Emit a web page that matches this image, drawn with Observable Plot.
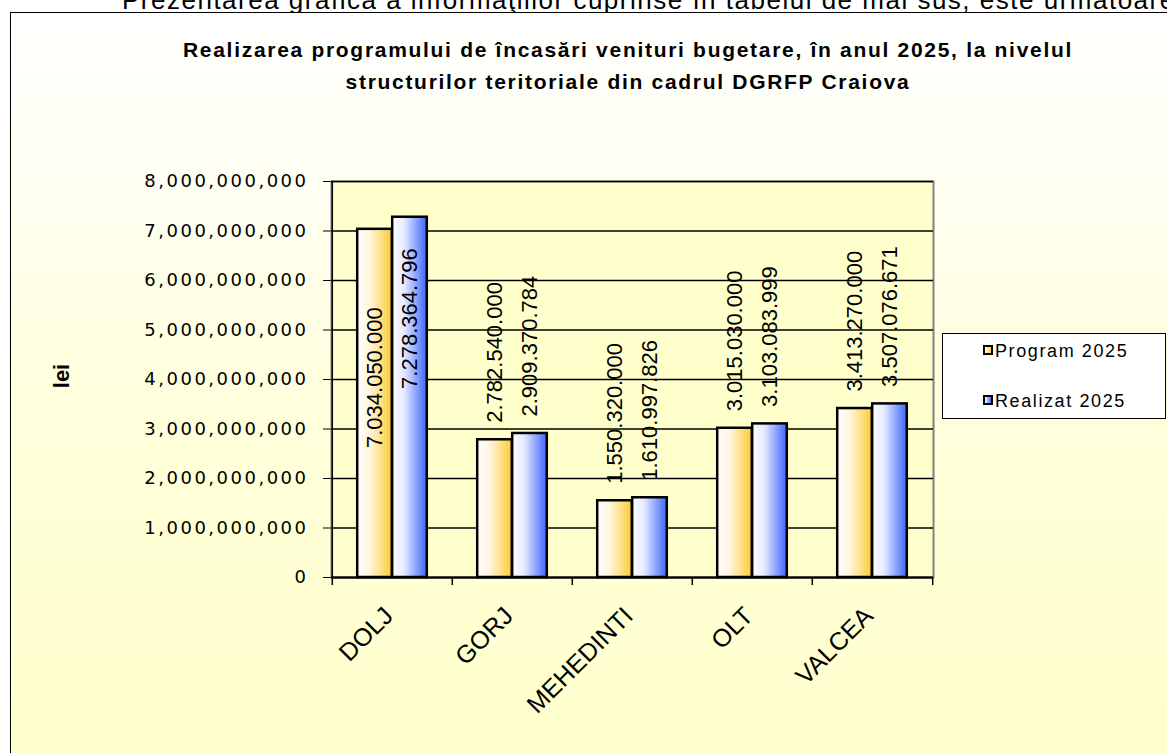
<!DOCTYPE html>
<html><head><meta charset="utf-8">
<script src="https://cdn.jsdelivr.net/npm/d3@7"></script>
<script src="https://cdn.jsdelivr.net/npm/@observablehq/plot@0.6"></script>
<style>
html,body{margin:0;padding:0}
body{width:1167px;height:753px;overflow:hidden;position:relative;background:#fff;font-family:"Liberation Sans",Arial,sans-serif;color:#000}
#intro{position:absolute;left:122px;top:-13px;font-size:26px;line-height:26px;white-space:nowrap;letter-spacing:1.5px}
#frame{position:absolute;left:10px;top:12px;width:1300px;height:900px;border-left:1.5px solid #000;border-top:1.5px solid #000;background:linear-gradient(to bottom,#ffffff 0px,#fffff4 150px,#ffffdc 400px,#ffffcc 741px)}
#title{position:absolute;left:0;top:34px;width:1256px;text-align:center;font-weight:bold;font-size:21px;letter-spacing:1.7px;line-height:32px;white-space:nowrap}
#lei{position:absolute;left:32px;top:365px;width:60px;height:22px;line-height:22px;text-align:center;font-weight:bold;font-size:22px;transform:rotate(-90deg)}
#chart{position:absolute;left:0;top:0}
#legend{position:absolute;left:942px;top:333px;width:222px;height:84px;border:1px solid #000;background:#fff}
.item{position:absolute;left:40px;font-size:18px;letter-spacing:1.6px;white-space:nowrap;line-height:20px}
.sw{display:inline-block;width:6px;height:6px;border:2px solid #000;margin-right:2px;vertical-align:2px}
[aria-label^="y-axis"] text{font-family:"DejaVu Sans",sans-serif;font-size:18px;letter-spacing:2.5px}
[aria-label="cat-labels"] text{letter-spacing:3.5px}
[aria-label="value-labels"] text{letter-spacing:-0.4px}
</style>
</head><body>
<div id="intro">Prezentarea grafică a informaţiilor cuprinse în tabelul de mai sus, este următoarea</div>
<div id="frame"></div>
<div id="title">Realizarea programului de încasări venituri bugetare, în anul 2025, la nivelul<br>structurilor teritoriale din cadrul DGRFP Craiova</div>
<div id="lei">lei</div>
<div id="chart"></div>
<div id="legend"></div>
<script>
// ---- data ----
const categories = ["DOLJ", "GORJ", "MEHEDINTI", "OLT", "VALCEA"];
const seriesNames = ["Program 2025", "Realizat 2025"];
const program2025 = [7034050000, 2782540000, 1550320000, 3015030000, 3413270000];
const realizat2025 = [7278364796, 2909370784, 1610997826, 3103083999, 3507076671];
const yTicks = [0, 1e9, 2e9, 3e9, 4e9, 5e9, 6e9, 7e9, 8e9];
const seriesColors = ["#ffcc33", "#3d66ff"];

// ---- layout ----
const W = 1167, H = 753, mL = 331, mR = 234, mT = 181, mB = 176;
const plotH = H - mT - mB;
const yMax = yTicks[yTicks.length - 1];
const band = (W - mL - mR) / categories.length;
const barW = 35;
const half = band / 2;

const rows = categories.map((c, i) => ({category: c, program: program2025[i], realizat: realizat2025[i]}));
const fmtLabel = d3.formatLocale({decimal: ",", thousands: ".", grouping: [3], currency: ["", ""]}).format(",d");
const labelPx = 158;
const fits = v => (yMax - v) / yMax * plotH >= labelPx;

const labelStyle = {rotate: -90, fontSize: 22, ariaLabel: "value-labels", fill: "#000"};

const plot = Plot.plot({
  width: W, height: H,
  marginLeft: mL, marginRight: mR, marginTop: mT, marginBottom: mB,
  style: {background: "transparent", overflow: "visible", fontFamily: "Liberation Sans, Arial, sans-serif"},
  x: {domain: categories, padding: 0, axis: null},
  y: {domain: [0, yMax], ticks: yTicks.length - 1, tickFormat: d3.format(","), tickSize: 8, tickPadding: 15, label: null},
  marks: [
    Plot.frame({fill: "#ffffcc", stroke: "#808080", strokeWidth: 2}),
    Plot.ruleY(yTicks, {stroke: "#000", strokeWidth: 1.3}),
    Plot.barY(rows, {x: "category", y: "program", fill: "url(#gradProgram)", stroke: "#000", strokeWidth: 2.5,
      insetLeft: half - barW, insetRight: half}),
    Plot.barY(rows, {x: "category", y: "realizat", fill: "url(#gradRealizat)", stroke: "#000", strokeWidth: 2.5,
      insetLeft: half, insetRight: half - barW}),
    // value labels above the bars
    Plot.text(rows, {filter: d => fits(d.program), x: "category", y: "program", text: d => fmtLabel(d.program),
      textAnchor: "start", dx: -barW / 2, dy: -17, ...labelStyle}),
    Plot.text(rows, {filter: d => fits(d.realizat), x: "category", y: "realizat", text: d => fmtLabel(d.realizat),
      textAnchor: "start", dx: barW / 2, dy: -17, ...labelStyle}),
    // value labels that do not fit above go inside the bar
    Plot.text(rows, {filter: d => !fits(d.program), x: "category", y: "program", text: d => fmtLabel(d.program),
      textAnchor: "end", dx: -barW / 2, dy: 78, ...labelStyle}),
    Plot.text(rows, {filter: d => !fits(d.realizat), x: "category", y: "realizat", text: d => fmtLabel(d.realizat),
      textAnchor: "end", dx: barW / 2, dy: 31, ...labelStyle}),
    // axis lines & category ticks
    Plot.ruleX([categories[0]], {x: d => d, dx: -half, stroke: "#000", strokeWidth: 1.5}),
    Plot.ruleY([0], {stroke: "#000", strokeWidth: 2}),
    Plot.ruleX(categories, {x: d => d, dx: -half, stroke: "#000", strokeWidth: 1.5, insetTop: plotH, insetBottom: -8}),
    Plot.ruleX([categories[categories.length - 1]], {x: d => d, dx: half, stroke: "#000", strokeWidth: 1.5, insetTop: plotH, insetBottom: -8}),
    // category labels
    Plot.text(categories, {x: d => d, frameAnchor: "bottom", text: d => d, rotate: -45, textAnchor: "end",
      dx: 2, dy: 40, fontSize: 25, fill: "#000", ariaLabel: "cat-labels"})
  ]
});

const svg = d3.select(plot);
svg.insert("defs", ":first-child").html(
  `<linearGradient id="gradProgram" x1="0" x2="1" y1="0" y2="0">
     <stop offset="0" stop-color="#ffffff"/><stop offset="0.35" stop-color="#fff6e0"/><stop offset="1" stop-color="${seriesColors[0]}"/>
   </linearGradient>
   <linearGradient id="gradRealizat" x1="0" x2="1" y1="0" y2="0">
     <stop offset="0" stop-color="#ffffff"/><stop offset="0.35" stop-color="#e4e9ff"/><stop offset="1" stop-color="${seriesColors[1]}"/>
   </linearGradient>`);
document.getElementById("chart").appendChild(plot);

// legend
const legend = document.getElementById("legend");
seriesNames.forEach((name, i) => {
  const item = document.createElement("div");
  item.className = "item";
  item.style.top = (7 + i * 50) + "px";
  const sw = document.createElement("span");
  sw.className = "sw";
  sw.style.background = `linear-gradient(to right, #fff, ${seriesColors[i]})`;
  item.appendChild(sw);
  item.appendChild(document.createTextNode(name));
  legend.appendChild(item);
});
</script>
</body></html>
